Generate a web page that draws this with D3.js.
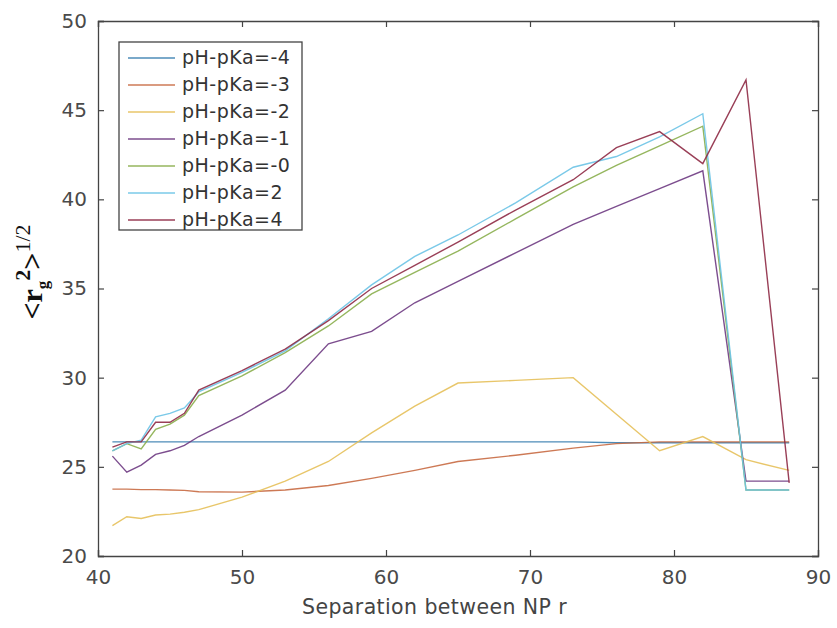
<!DOCTYPE html>
<html>
<head>
<meta charset="utf-8">
<script src="https://cdn.jsdelivr.net/npm/d3@7"></script>
<style>
  body { margin: 0; background: #fff; }
  svg { display: block; }
</style>
</head>
<body>
<div id="chart"></div>
<script>
(function() {
  // data
  var separation = [41, 42, 43, 44, 45, 46, 47, 50, 53, 56, 59, 62, 65, 69, 73, 76, 79, 82, 85, 88]

  var seriesNames = ["pH-pKa=-4", "pH-pKa=-3", "pH-pKa=-2", "pH-pKa=-1", "pH-pKa=-0", "pH-pKa=2", "pH-pKa=4"]

  var rgM4 = [26.4, 26.4, 26.4, 26.4, 26.4, 26.4, 26.4, 26.4, 26.4, 26.4, 26.4, 26.4, 26.4, 26.4, 26.4, 26.35, 26.35, 26.35, 26.35, 26.35]
  var rgM3 = [23.75, 23.75, 23.72, 23.72, 23.7, 23.68, 23.6, 23.58, 23.7, 23.95, 24.35, 24.8, 25.3, 25.65, 26.05, 26.3, 26.4, 26.4, 26.4, 26.4]
  var rgM2 = [21.7, 22.2, 22.1, 22.3, 22.35, 22.45, 22.6, 23.3, 24.2, 25.3, 26.9, 28.4, 29.7, 29.85, 30.0, 27.95, 25.9, 26.7, 25.4, 24.8]
  var rgM1 = [25.6, 24.7, 25.1, 25.7, 25.9, 26.2, 26.7, 27.9, 29.3, 31.9, 32.6, 34.2, 35.4, 37.0, 38.6, 39.6, 40.6, 41.6, 24.2, 24.2]
  var rg0  = [25.9, 26.3, 26.0, 27.1, 27.4, 27.9, 29.0, 30.1, 31.4, 32.9, 34.7, 35.9, 37.1, 38.9, 40.7, 41.9, 43.0, 44.1, 23.7, 23.7]
  var rg2  = [25.9, 26.3, 26.5, 27.8, 28.0, 28.3, 29.2, 30.3, 31.5, 33.3, 35.2, 36.8, 38.0, 39.8, 41.8, 42.4, 43.5, 44.8, 23.7, 23.7]
  var rg4  = [26.1, 26.4, 26.4, 27.5, 27.5, 28.0, 29.3, 30.4, 31.6, 33.2, 35.0, 36.3, 37.6, 39.4, 41.1, 42.9, 43.8, 42.0, 46.7, 24.1]

  var seriesValues = [rgM4, rgM3, rgM2, rgM1, rg0, rg2, rg4]
  var colors = ["#3a7fb0", "#c86a42", "#e6c05a", "#6e3a82", "#8aae4c", "#6cc3e6", "#8e2a45"]

  var xTicks = [40, 50, 60, 70, 80, 90]
  var yTicks = [20, 25, 30, 35, 40, 45, 50]

  var margin = {top: 21, right: 17, bottom: 70, left: 98}
  var fullWidth = 837, fullHeight = 628
  var width = fullWidth - margin.left - margin.right,
      height = fullHeight - margin.top - margin.bottom

  var svg = d3.select("#chart")
      .append("svg")
      .attr("width", fullWidth)
      .attr("height", fullHeight)

  var g = svg.append("g")
      .attr("transform", "translate(" + margin.left + "," + margin.top + ")")

  var xPositionScale = d3.scaleLinear().domain([40, 90]).range([0, width - 2])
  var yPositionScale = d3.scaleLinear().domain([20, 50]).range([height - 2, 0])

  var axisColor = "#444"
  var tickFont = "DejaVu Sans, sans-serif"

  // lines
  var line = d3.line()
      .x(function(d) { return xPositionScale(d.x) })
      .y(function(d) { return yPositionScale(d.y) })

  seriesValues.forEach(function(vals, i) {
    var pts = separation.map(function(x, j) { return {x: x, y: vals[j]} })
    g.append("path")
      .datum(pts)
      .attr("d", line)
      .attr("fill", "none")
      .attr("stroke", colors[i])
      .attr("stroke-width", 1.4)
      .attr("stroke-opacity", 0.9)
  })

  // axes, inward ticks on all four sides (box on)
  var xAxis = d3.axisBottom(xPositionScale).tickValues(xTicks).tickSize(-6).tickPadding(14)
  var yAxis = d3.axisLeft(yPositionScale).tickValues(yTicks).tickSize(-6).tickPadding(11)

  g.append("g")
      .attr("class", "axis x-axis")
      .attr("transform", "translate(0," + yPositionScale(20) + ")")
      .call(xAxis)
  g.append("g")
      .attr("class", "axis y-axis")
      .call(yAxis)

  g.append("g")
      .call(d3.axisTop(xPositionScale).tickValues(xTicks).tickSize(-6).tickFormat(""))
  g.append("g")
      .attr("transform", "translate(" + xPositionScale(90) + ",0)")
      .call(d3.axisRight(yPositionScale).tickValues(yTicks).tickSize(-6).tickFormat(""))

  g.selectAll(".domain").attr("stroke", axisColor).attr("stroke-width", 1.3)
  g.selectAll(".tick line").attr("stroke", axisColor).attr("stroke-width", 1.2)
  g.selectAll(".tick text")
      .attr("fill", "#4a4a4a")
      .style("font-family", tickFont)
      .style("font-size", "20px")

  // axis titles
  svg.append("text")
      .attr("x", 302)
      .attr("y", 614)
      .attr("fill", "#444")
      .style("font-family", tickFont)
      .style("font-size", "20.5px")
      .style("letter-spacing", "0.4px")
      .text("Separation between NP r")

  var yLabel = svg.append("text")
      .attr("transform", "translate(42,272) rotate(-90)")
      .attr("text-anchor", "middle")
      .attr("fill", "#111")
      .style("font-family", "Liberation Serif, serif")
      .style("font-weight", "bold")
      .style("font-size", "30px")
  yLabel.append("tspan").text("<r")
  yLabel.append("tspan").attr("dy", 6).style("font-size", "17px").text("g")
  yLabel.append("tspan").attr("dy", -18).style("font-size", "22px").text("2")
  yLabel.append("tspan").attr("dy", 12).text(">")
  yLabel.append("tspan").attr("dy", -12).style("font-size", "22px").style("font-weight", "normal").text("1/2")

  // legend
  var legend = svg.append("g").attr("transform", "translate(119,42)")
  legend.append("rect")
      .attr("width", 183)
      .attr("height", 188)
      .attr("fill", "#fff")
      .attr("stroke", "#444")
      .attr("stroke-width", 1.3)

  seriesNames.forEach(function(name, i) {
    var yy = 16 + i * 27
    legend.append("line")
      .attr("x1", 9).attr("x2", 56)
      .attr("y1", yy).attr("y2", yy)
      .attr("stroke", colors[i])
      .attr("stroke-width", 1.4)
      .attr("stroke-opacity", 0.9)
    legend.append("text")
      .attr("x", 63)
      .attr("y", yy + 6)
      .attr("fill", "#333")
      .style("font-family", tickFont)
      .style("font-size", "19px")
      .style("letter-spacing", "0.5px")
      .text(name)
  })
})()
</script>
</body>
</html>
